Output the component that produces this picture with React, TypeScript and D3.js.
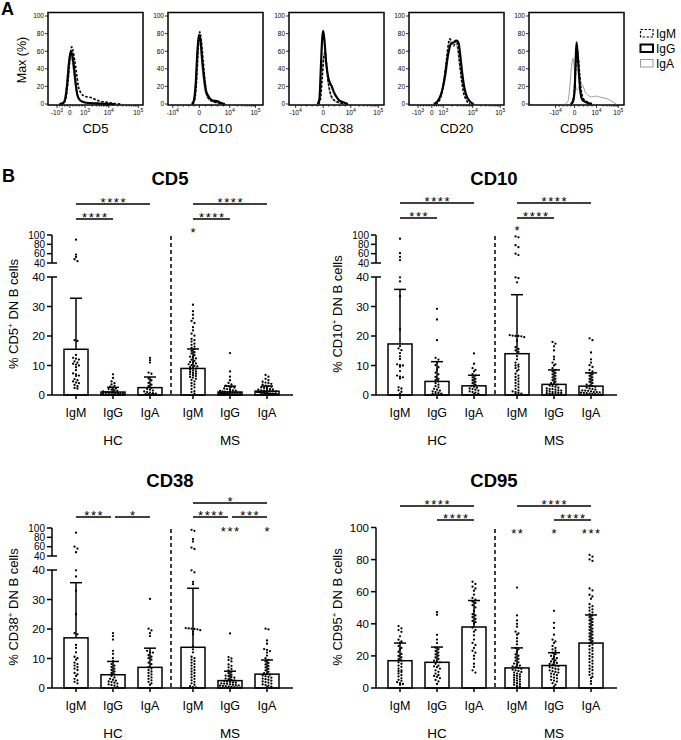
import React from "react";
import * as d3 from "d3";

const FONT = "'Liberation Sans', Arial, Helvetica, sans-serif";

// ================= Panel A: histogram data (x = display channel %, y = % of max) =================
const histMarkers = ["CD5", "CD10", "CD38", "CD20", "CD95"];
const histYTicks = [0, 20, 40, 60, 80, 100];
const legendLabels = ["IgM", "IgG", "IgA"];

// tick positions (channel %) with label base and exponent
const cd5AxisTicks: [number, string, string][] = [[9.5, "-10", "3"], [23, "0", ""], [39, "10", "3"], [64, "10", "4"], [95, "10", "5"]];
const cd10AxisTicks: [number, string, string][] = [[5, "-10", "4"], [33, "0", ""], [65, "10", "4"], [92, "10", "5"]];
const cd38AxisTicks: [number, string, string][] = [[7, "-10", "4"], [36, "0", ""], [65, "10", "4"], [94, "10", "5"]];
const cd20AxisTicks: [number, string, string][] = [[9.5, "-10", "3"], [24, "0", ""], [36, "10", "3"], [67, "10", "4"], [96, "10", "5"]];
const cd95AxisTicks: [number, string, string][] = [[28, "-10", "4"], [48, "0", ""], [71, "10", "4"], [94, "10", "5"]];

const cd5HistIgM = [[13, 0], [17, 2], [19, 8], [21, 25], [23, 50], [25, 65], [26, 62], [28, 50], [30, 35], [32, 20], [35, 12], [38, 9], [42, 8], [46, 7], [50, 5], [55, 3], [62, 2], [70, 0.5], [78, 0]];
const cd5HistIgG = [[12, 0], [16, 1], [18, 5], [20, 20], [22, 45], [24, 60], [25, 58], [27, 45], [29, 25], [31, 10], [34, 4], [38, 2], [45, 1], [55, 0.5], [70, 0]];
const cd5HistIgA = [[12, 0], [16, 2], [18, 10], [20, 30], [22, 52], [23.5, 58], [25, 52], [27, 35], [29, 18], [31, 8], [34, 3], [40, 1], [50, 0]];

const cd10HistIgM = [[26, 0], [28, 4], [30, 25], [32, 65], [33.5, 82], [35, 72], [37, 50], [39, 25], [41, 10], [45, 4], [50, 2], [58, 0]];
const cd10HistIgG = [[25, 0], [27, 3], [29, 20], [31, 60], [32.5, 78], [34, 74], [36, 50], [38, 30], [40, 15], [43, 8], [47, 4], [52, 3], [56, 1], [60, 0]];
const cd10HistIgA = [[25, 0], [27, 4], [29, 25], [31, 65], [32.5, 80], [34, 70], [36, 40], [38, 20], [41, 8], [45, 3], [52, 1], [60, 0]];

const cd38HistIgM = [[31, 0], [33, 5], [35, 30], [36.5, 52], [38, 59], [39.5, 45], [41, 28], [43, 15], [45, 8], [48, 4], [52, 2], [58, 0]];
const cd38HistIgG = [[30, 0], [32, 5], [33.5, 40], [35, 75], [36, 83], [37.5, 70], [39, 48], [41, 32], [43, 24], [45, 20], [47, 14], [50, 8], [53, 4], [57, 2], [62, 0]];
const cd38HistIgA = [[31, 0], [33, 8], [35, 35], [36.5, 55], [38, 58], [39.5, 42], [41, 25], [43, 12], [46, 5], [50, 2], [56, 0]];

const cd20HistIgM = [[28, 0], [32, 4], [36, 20], [39, 45], [41, 65], [43, 74], [45, 70], [47, 66], [49, 72], [51, 68], [53, 50], [55, 30], [57, 15], [60, 5], [64, 0]];
const cd20HistIgG = [[26, 0], [30, 3], [34, 12], [38, 32], [41, 55], [44, 68], [47, 70], [50, 72], [52, 70], [54, 55], [56, 35], [58, 20], [61, 8], [64, 3], [68, 0]];
const cd20HistIgA = [[27, 0], [31, 4], [35, 18], [38, 40], [41, 62], [43, 72], [45, 68], [48, 70], [51, 62], [53, 45], [56, 25], [59, 10], [63, 3], [67, 0]];

const cd95HistIgM = [[44, 0], [46, 3], [48, 20], [49.5, 45], [51, 60], [52, 52], [53.5, 32], [55, 15], [58, 5], [62, 2], [68, 0]];
const cd95HistIgG = [[44, 0], [46, 2], [48, 15], [49, 45], [50, 70], [51, 60], [52.5, 35], [54, 15], [56, 5], [60, 2], [66, 0]];
const cd95HistIgA = [[38, 0], [41, 3], [43, 20], [45, 45], [46.5, 52], [48, 35], [49.5, 18], [51, 16], [53, 20], [55, 23], [57, 20], [59, 14], [62, 10], [66, 8], [70, 9], [74, 8], [78, 7], [82, 6], [86, 4], [89, 2], [92, 0]];

// ================= Panel B: bar + scatter data =================
const isotypes = ["IgM", "IgG", "IgA"];
const cohorts = ["HC", "MS"];

// ---- CD5 ----
const cd5Mean = [15.5, 1.0, 2.5, 9.0, 1.0, 1.3];
const cd5SdTop = [32.8, 2.6, 6.1, 15.6, 3.0, 3.0];
const cd5HcIgM = [90, 58, 53, 48, 44, 18.6, 18.3, 13.6, 12.6, 12.3, 12.0, 11.4, 11.0, 10.6, 10.3, 10.0, 9.4, 8.4, 7.3, 7.0, 6.6, 6.4, 5.4, 5.0, 4.6, 4.2, 4.0, 3.4, 3.0, 2.4, 2.2];
const cd5HcIgG = [7.0, 5.8, 4.6, 4.0, 3.6, 3.1, 2.8, 2.5, 2.2, 2.0, 1.8, 1.6, 1.4, 1.2, 1.0, 1.0, 0.9, 0.8, 0.7, 0.6, 0.5, 0.5, 0.4, 0.3, 0.3, 0.2, 0.2, 0.1, 0.1, 0.1];
const cd5HcIgA = [12.6, 11.8, 11.0, 7.6, 7.2, 5.6, 5.0, 4.1, 3.5, 3.0, 2.4, 2.0, 1.8, 1.5, 1.2, 1.0, 0.8, 0.6, 0.5, 0.4, 0.3, 0.2, 0.1];
const cd5MsIgM = [30.6, 28.4, 27.2, 26.0, 25.1, 24.4, 23.0, 21.9, 20.8, 20.1, 19.0, 18.6, 18.1, 17.4, 17.0, 16.4, 16.0, 15.6, 15.0, 14.5, 14.1, 13.5, 13.0, 12.8, 12.4, 12.0, 11.6, 11.2, 11.0, 10.7, 10.4, 10.1, 9.9, 9.7, 9.4, 9.1, 8.9, 8.6, 8.3, 8.0, 7.8, 7.5, 7.2, 7.0, 6.7, 6.4, 6.1, 5.9, 5.5, 5.1, 4.6, 4.0, 3.6, 3.1, 2.6, 2.0, 1.3, 1.0, 0.5];
const cd5MsIgG = [14.2, 8.0, 6.2, 5.0, 4.1, 3.6, 3.2, 3.0, 2.8, 2.5, 2.2, 2.0, 1.8, 1.6, 1.5, 1.4, 1.2, 1.1, 1.0, 1.0, 0.9, 0.8, 0.8, 0.7, 0.6, 0.6, 0.5, 0.5, 0.4, 0.4, 0.3, 0.3, 0.3, 0.2, 0.2, 0.2, 0.1, 0.1, 0.1, 0.1, 0.05, 0.05];
const cd5MsIgA = [6.8, 6.2, 5.5, 5.0, 4.5, 4.2, 4.0, 3.8, 3.5, 3.2, 3.0, 2.8, 2.6, 2.4, 2.2, 2.0, 1.9, 1.8, 1.6, 1.5, 1.4, 1.3, 1.2, 1.1, 1.0, 1.0, 0.9, 0.8, 0.8, 0.7, 0.6, 0.6, 0.5, 0.5, 0.4, 0.4, 0.3, 0.3, 0.2, 0.2, 0.1, 0.1, 0.1];
const cd5Sig: [number, number, number, string][] = [[0, 2, 2, "****"], [0, 1, 1, "****"], [3, 5, 2, "****"], [3, 4, 1, "****"]];
const cd5Single: [number, string][] = [[3, "*"]];

// ---- CD10 ----
const cd10Mean = [17.3, 4.6, 3.1, 14.0, 3.6, 3.0];
const cd10SdTop = [35.8, 11.3, 6.7, 34.0, 8.5, 7.5];
const cd10HcIgM = [92, 61, 53, 46, 39.9, 38.5, 33.5, 22.2, 16.6, 15.8, 15.2, 14.2, 13.1, 12.2, 10.4, 10.1, 10.0, 9.6, 8.1, 6.6, 6.2, 6.0, 5.6, 2.6, 2.2, 1.6, 1.1, 0.5];
const cd10HcIgG = [29.2, 25.6, 18.6, 12.6, 12.0, 11.1, 10.1, 9.4, 8.6, 7.6, 7.0, 6.1, 5.5, 5.0, 4.6, 4.0, 3.5, 3.0, 2.6, 2.1, 1.8, 1.5, 1.2, 1.0, 0.8, 0.5, 0.4, 0.3, 0.2, 0.1];
const cd10HcIgA = [14.1, 10.6, 9.1, 8.5, 8.0, 7.1, 6.6, 6.0, 5.5, 5.0, 4.5, 4.0, 3.5, 3.1, 2.8, 2.5, 2.2, 2.0, 1.8, 1.5, 1.2, 1.0, 0.8, 0.5, 0.3];
const cd10MsIgM = [97, 95, 78, 74, 60, 57, 39.9, 39.6, 38.2, 20.3, 20.1, 20.0, 20.0, 19.9, 19.6, 18.4, 16.2, 15.6, 15.1, 14.6, 13.2, 12.1, 11.0, 10.3, 10.0, 9.6, 9.1, 8.6, 8.1, 7.2, 6.6, 6.1, 5.6, 5.1, 4.6, 4.1, 3.6, 3.1, 2.6, 2.1, 1.6, 1.2, 1.0, 0.8, 0.5, 0.4, 0.2];
const cd10MsIgG = [18.0, 17.4, 16.5, 15.1, 13.0, 12.1, 11.0, 10.4, 10.0, 9.1, 8.5, 8.0, 7.5, 7.0, 6.5, 6.0, 5.5, 5.0, 4.5, 4.0, 3.8, 3.5, 3.2, 3.0, 2.8, 2.5, 2.2, 2.0, 2.0, 1.8, 1.6, 1.5, 1.4, 1.2, 1.0, 1.0, 0.8, 0.7, 0.6, 0.5, 0.4, 0.3, 0.2, 0.1];
const cd10MsIgA = [19.2, 18.6, 14.4, 12.1, 11.0, 10.1, 9.5, 8.5, 8.0, 7.5, 7.0, 6.5, 6.0, 5.5, 5.0, 4.5, 4.0, 3.5, 3.2, 3.0, 2.8, 2.5, 2.2, 2.0, 1.8, 1.6, 1.5, 1.4, 1.2, 1.0, 1.0, 0.9, 0.8, 0.7, 0.6, 0.5, 0.4, 0.3, 0.2, 0.1];
const cd10Sig: [number, number, number, string][] = [[0, 2, 2, "****"], [0, 1, 1, "***"], [3, 5, 2, "****"], [3, 4, 1, "****"]];
const cd10Single: [number, string][] = [[3, "*"]];

// ---- CD38 ----
const cd38Mean = [17.0, 4.5, 7.0, 13.8, 2.5, 4.7];
const cd38SdTop = [35.7, 9.0, 13.5, 33.8, 5.7, 9.5];
const cd38HcIgM = [90, 60, 56, 48, 39.9, 37.8, 33.0, 25.0, 18.6, 18.2, 14.6, 13.6, 12.1, 10.6, 10.1, 9.6, 8.6, 8.1, 7.6, 7.1, 6.6, 6.1, 5.1, 4.6, 4.1, 3.1, 2.6, 2.1, 1.6];
const cd38HcIgG = [18.6, 17.6, 16.4, 12.6, 11.6, 10.1, 9.1, 8.1, 7.6, 7.1, 6.6, 6.1, 5.6, 5.1, 4.6, 4.1, 3.6, 3.1, 2.8, 2.5, 2.2, 2.0, 1.8, 1.5, 1.2, 1.0, 0.8, 0.5];
const cd38HcIgA = [30.2, 20.1, 19.5, 18.6, 17.6, 12.6, 12.1, 12.0, 11.1, 10.6, 10.1, 9.6, 8.6, 8.1, 7.1, 6.6, 6.1, 5.6, 5.1, 4.6, 4.1, 3.6, 3.1, 2.6, 2.1, 1.6, 1.1];
const cd38MsIgM = [96, 94, 76, 71, 58, 55, 39.9, 39.2, 36.0, 35.2, 20.3, 20.2, 20.1, 20.0, 19.9, 19.6, 19.1, 18.2, 14.1, 13.1, 12.1, 10.6, 10.1, 9.6, 9.1, 8.6, 8.1, 7.6, 7.1, 6.6, 6.1, 5.6, 5.1, 4.6, 4.1, 3.6, 3.1, 2.6, 2.1, 1.6, 1.1, 0.6, 0.3, 0.2];
const cd38MsIgG = [18.5, 10.5, 10.0, 9.5, 9.0, 8.0, 7.5, 7.0, 6.5, 6.0, 5.5, 5.0, 4.5, 4.2, 4.0, 3.8, 3.5, 3.2, 3.0, 2.8, 2.6, 2.4, 2.2, 2.0, 1.9, 1.8, 1.6, 1.5, 1.4, 1.2, 1.1, 1.0, 0.9, 0.8, 0.7, 0.6, 0.5, 0.4, 0.3, 0.2, 0.1];
const cd38MsIgA = [20.1, 19.9, 16.1, 15.0, 13.2, 12.9, 12.5, 12.0, 11.0, 10.1, 9.5, 9.0, 8.5, 8.0, 7.5, 7.0, 6.5, 6.0, 5.5, 5.0, 4.8, 4.5, 4.2, 4.0, 3.8, 3.5, 3.2, 3.0, 2.8, 2.5, 2.2, 2.0, 1.8, 1.5, 1.2, 1.0, 0.8, 0.5, 0.3];
const cd38Sig: [number, number, number, string][] = [[0, 1, 1, "***"], [1, 2, 1, "*"], [3, 5, 2, "*"], [3, 4, 1, "****"], [4, 5, 1, "***"]];
const cd38Single: [number, string][] = [[4, "***"], [5, "*"]];

// ---- CD95 ----
const cd95Mean = [17.0, 16.0, 38.0, 12.5, 14.0, 28.0];
const cd95SdTop = [28.0, 25.5, 54.5, 25.0, 22.0, 45.5];
const cd95HcIgM = [38.6, 37.2, 36.1, 35.0, 32.2, 30.1, 29.0, 28.2, 26.1, 25.0, 24.1, 22.6, 21.2, 20.0, 19.1, 18.0, 17.2, 16.0, 15.1, 14.0, 13.2, 12.1, 11.0, 10.6, 10.0, 9.1, 8.0, 7.2, 6.0, 5.1, 4.5, 3.6, 3.0, 2.5, 2.0];
const cd95HcIgG = [47.2, 45.6, 33.1, 30.2, 28.0, 25.1, 24.2, 23.0, 22.1, 21.0, 20.2, 19.0, 18.1, 17.0, 16.5, 16.0, 15.1, 14.0, 13.5, 13.0, 12.1, 11.0, 10.1, 9.0, 8.1, 7.5, 7.0, 6.1, 5.0, 4.1, 2.5];
const cd95HcIgA = [66.2, 64.8, 63.1, 62.0, 60.6, 58.2, 56.1, 55.0, 53.8, 53.0, 51.6, 50.2, 48.1, 46.0, 45.2, 44.1, 43.0, 41.8, 41.0, 40.1, 37.6, 36.2, 35.1, 32.8, 30.2, 28.1, 26.8, 25.0, 23.2, 22.0, 20.1, 18.2, 15.1, 13.2, 11.0, 9.6];
const cd95MsIgM = [62.6, 45.2, 42.1, 40.0, 38.2, 35.1, 34.0, 33.2, 31.0, 29.1, 27.2, 25.0, 24.1, 22.6, 21.0, 20.1, 19.0, 18.2, 17.1, 16.0, 15.2, 14.6, 14.0, 13.4, 13.0, 12.6, 12.0, 11.4, 11.0, 10.6, 10.0, 9.6, 9.0, 8.5, 8.0, 7.6, 7.0, 6.5, 6.0, 5.4, 5.0, 4.6, 4.0, 3.5, 3.0, 2.4, 2.0, 1.5, 1.0, 0.5];
const cd95MsIgG = [48.1, 40.6, 37.4, 33.2, 30.1, 29.0, 28.1, 26.2, 25.0, 24.1, 23.2, 22.0, 21.1, 20.0, 19.2, 18.6, 18.0, 17.2, 16.5, 16.0, 15.6, 15.0, 14.5, 14.0, 13.6, 13.0, 12.5, 12.0, 11.6, 11.0, 10.5, 10.0, 9.6, 9.0, 8.5, 8.0, 7.1, 6.5, 6.0, 5.1, 4.6, 4.0, 3.0, 2.1, 1.0];
const cd95MsIgA = [83.0, 81.8, 80.1, 79.2, 62.0, 60.8, 58.1, 57.0, 55.6, 52.2, 51.0, 50.1, 49.0, 48.2, 47.1, 46.0, 45.2, 44.1, 43.0, 42.2, 41.1, 40.0, 39.2, 38.1, 37.0, 36.2, 35.1, 34.0, 33.2, 32.1, 31.0, 30.1, 29.2, 28.0, 27.1, 26.2, 25.0, 24.1, 23.2, 22.0, 21.1, 20.0, 19.2, 18.1, 17.0, 16.1, 15.2, 14.0, 13.1, 12.0, 11.2, 10.1, 9.0, 8.2, 7.0, 6.1, 4.2, 2.6];
const cd95Sig: [number, number, number, string][] = [[0, 2, 2, "****"], [1, 2, 1, "****"], [3, 5, 2, "****"], [4, 5, 1, "****"]];
const cd95Single: [number, string][] = [[3, "**"], [4, "*"], [5, "***"]];

const brokenLowerTicks = [0, 10, 20, 30, 40];
const brokenUpperTicks = [40, 60, 80, 100];
const linearTicks = [0, 20, 40, 60, 80, 100];

// ================= layout tables built from arrays =================
const histPanels = [
  { label: histMarkers[0], left: 48, ticks: cd5AxisTicks, series: [cd5HistIgM, cd5HistIgG, cd5HistIgA] },
  { label: histMarkers[1], left: 168, ticks: cd10AxisTicks, series: [cd10HistIgM, cd10HistIgG, cd10HistIgA] },
  { label: histMarkers[2], left: 289, ticks: cd38AxisTicks, series: [cd38HistIgM, cd38HistIgG, cd38HistIgA] },
  { label: histMarkers[3], left: 409, ticks: cd20AxisTicks, series: [cd20HistIgM, cd20HistIgG, cd20HistIgA] },
  { label: histMarkers[4], left: 529, ticks: cd95AxisTicks, series: [cd95HistIgM, cd95HistIgG, cd95HistIgA] },
];

const charts = [
  { title: "CD5", ox: 0, oy: 0, broken: true, groups: [cd5HcIgM, cd5HcIgG, cd5HcIgA, cd5MsIgM, cd5MsIgG, cd5MsIgA], mean: cd5Mean, sdTop: cd5SdTop, sig: cd5Sig, single: cd5Single, titleY: 185, levels: [0, 219, 204], singleY: 230 },
  { title: "CD10", ox: 324, oy: 0, broken: true, groups: [cd10HcIgM, cd10HcIgG, cd10HcIgA, cd10MsIgM, cd10MsIgG, cd10MsIgA], mean: cd10Mean, sdTop: cd10SdTop, sig: cd10Sig, single: cd10Single, titleY: 185, levels: [0, 218, 203], singleY: 228 },
  { title: "CD38", ox: 0, oy: 293, broken: true, groups: [cd38HcIgM, cd38HcIgG, cd38HcIgA, cd38MsIgM, cd38MsIgG, cd38MsIgA], mean: cd38Mean, sdTop: cd38SdTop, sig: cd38Sig, single: cd38Single, titleY: 487 - 293, levels: [0, 224, 210], singleY: 236 },
  { title: "CD95", ox: 324, oy: 293, broken: false, groups: [cd95HcIgM, cd95HcIgG, cd95HcIgA, cd95MsIgM, cd95MsIgG, cd95MsIgA], mean: cd95Mean, sdTop: cd95SdTop, sig: cd95Sig, single: cd95Single, titleY: 487 - 293, levels: [0, 227, 213], singleY: 238 },
];

// ================= components =================
function minorTicks(ticks: [number, string, string][]) {
  const out: number[] = [];
  for (let i = 0; i < ticks.length - 1; i++) {
    const [p0, b0, e0] = ticks[i];
    const [p1, , e1] = ticks[i + 1];
    const pos0 = b0 === "10" && e0 !== "";
    if (pos0 && e1 !== "") {
      for (let k = 2; k <= 9; k++) out.push(p0 + (p1 - p0) * Math.log10(k));
    } else {
      for (let k = 1; k <= 4; k++) out.push(p0 + ((p1 - p0) * k) / 5);
    }
  }
  return out;
}

function HistPanel({ p }: { p: (typeof histPanels)[number] }) {
  const W = 95;
  const x = d3.scaleLinear().domain([0, 100]).range([p.left, p.left + W]);
  const y = d3.scaleLinear().domain([0, 100]).range([104, 16]);
  const line = d3
    .line<number[]>()
    .x((d) => x(d[0]))
    .y((d) => y(d[1]))
    .curve(d3.curveMonotoneX);
  const styles = [
    { stroke: "#000", w: 1.6, dash: "2.6,1.6" },
    { stroke: "#000", w: 2.2, dash: "" },
    { stroke: "#8f8f8f", w: 0.9, dash: "" },
  ];
  const order = [2, 1, 0];
  return (
    <g>
      <rect x={p.left} y={12.5} width={W} height={92.5} fill="none" stroke="#000" strokeWidth={1.5} />
      {order.map((si) => (
        <path key={si} d={line(p.series[si] as number[][]) || ""} fill="none" stroke={styles[si].stroke} strokeWidth={styles[si].w} strokeDasharray={styles[si].dash || undefined} strokeLinejoin="round" />
      ))}
      {histYTicks.map((t) => (
        <g key={t}>
          <line x1={p.left - 3} x2={p.left} y1={y(t)} y2={y(t)} stroke="#000" strokeWidth={0.8} />
          <text x={p.left - 4} y={y(t) + 2.3} fontSize={6.5} textAnchor="end" fill="#000">{t}</text>
        </g>
      ))}
      {minorTicks(p.ticks).map((m, i) => (
        <line key={"m" + i} x1={x(m)} x2={x(m)} y1={105} y2={106.8} stroke="#000" strokeWidth={0.6} />
      ))}
      {p.ticks.map(([pos, b, e], i) => (
        <g key={i}>
          <line x1={x(pos)} x2={x(pos)} y1={105} y2={108} stroke="#000" strokeWidth={0.8} />
          <text x={x(pos)} y={115} fontSize={6.5} textAnchor="middle" fill="#000">
            {b}
            {e ? <tspan dy={-3} fontSize={5}>{e}</tspan> : null}
          </text>
        </g>
      ))}
      <text x={p.left + W / 2} y={133} fontSize={13} textAnchor="middle">{p.label}</text>
    </g>
  );
}

function layoutDots(values: number[], cx: number, y: (v: number) => number) {
  const pts = values.map((v) => ({ v, py: y(v) })).sort((a, b) => a.py - b.py);
  const rows: { y0: number; pts: { v: number; py: number }[] }[] = [];
  for (const p of pts) {
    const last = rows[rows.length - 1];
    if (last && p.py - last.y0 < 2.3) last.pts.push(p);
    else rows.push({ y0: p.py, pts: [p] });
  }
  const out: { x: number; y: number }[] = [];
  for (const r of rows) {
    const n = r.pts.length;
    let step = 2.9;
    if ((n - 1) * step > 20) step = 20 / (n - 1);
    r.pts.forEach((p, i) => out.push({ x: cx + (i - (n - 1) / 2) * step, y: p.py }));
  }
  return out;
}

function BarChart({ c }: { c: (typeof charts)[number] }) {
  const { ox, oy } = c;
  const axisX = 52 + ox;
  const base = 395 + oy;
  const outer = d3.scalePoint<string>().domain(cohorts).range([113 + ox, 230 + ox]);
  const inner = d3.scalePoint<string>().domain(isotypes).range([-37, 37]);
  const cx = (g: number) => (outer(cohorts[Math.floor(g / 3)]) as number) + (inner(isotypes[g % 3]) as number);
  const lo = d3.scaleLinear().domain([0, 40]).range([base, 277 + oy]);
  const hi = d3.scaleLinear().domain([40, 100]).range([263 + oy, 235 + oy]);
  const lin = d3.scaleLinear().domain([0, 100]).range([base, 234.5 + oy]);
  const y = (v: number) => (c.broken ? (v <= 40 ? lo(v) : hi(v)) : lin(v));
  const bw = 24;
  const sw = 1.5;

  const yLabelNum = c.title;
  return (
    <g>
      <text x={170 + ox} y={c.titleY + oy} fontSize={18.5} fontWeight="bold" textAnchor="middle">{c.title}</text>
      {/* y label */}
      <text transform={`translate(${17.5 + ox},${314 + oy}) rotate(-90)`} fontSize={13} textAnchor="middle">
        <tspan>% {yLabelNum}</tspan>
        <tspan dy={-4.5} fontSize={8}>+</tspan>
        <tspan dy={4.5}> DN B cells</tspan>
      </text>
      {/* y axis */}
      {c.broken ? (
        <g>
          <line x1={axisX} x2={axisX} y1={base} y2={lo(40)} stroke="#000" strokeWidth={sw} />
          <line x1={axisX} x2={axisX} y1={hi(40)} y2={hi(100)} stroke="#000" strokeWidth={sw} />
          {brokenLowerTicks.map((t) => (
            <g key={"l" + t}>
              <line x1={axisX - 5} x2={t === 40 ? axisX + 5 : axisX} y1={lo(t)} y2={lo(t)} stroke="#000" strokeWidth={sw} />
              <text x={axisX - 7} y={lo(t) + 4} fontSize={11.5} textAnchor="end">{t}</text>
            </g>
          ))}
          {brokenUpperTicks.map((t) => (
            <g key={"u" + t}>
              <line x1={axisX - 5} x2={t === 40 ? axisX + 5 : axisX} y1={hi(t)} y2={hi(t)} stroke="#000" strokeWidth={sw} />
              <text x={axisX - 7} y={hi(t) + 3.5} fontSize={10} textAnchor="end">{t}</text>
            </g>
          ))}
        </g>
      ) : (
        <g>
          <line x1={axisX} x2={axisX} y1={base} y2={lin(100)} stroke="#000" strokeWidth={sw} />
          {linearTicks.map((t) => (
            <g key={t}>
              <line x1={axisX - 5} x2={axisX} y1={lin(t)} y2={lin(t)} stroke="#000" strokeWidth={sw} />
              <text x={axisX - 7} y={lin(t) + 4} fontSize={11.5} textAnchor="end">{t}</text>
            </g>
          ))}
        </g>
      )}
      {/* dashed separator */}
      <line x1={171 + ox} x2={171 + ox} y1={236 + oy} y2={394 + oy} stroke="#000" strokeWidth={1.5} strokeDasharray="4,3" />
      {/* bars */}
      {c.mean.map((m, g) => (
        <rect key={"b" + g} x={cx(g) - bw / 2} y={y(m)} width={bw} height={base - y(m)} fill="#fff" stroke="#000" strokeWidth={sw} />
      ))}
      {/* dots */}
      {c.groups.map((vals, g) =>
        layoutDots(vals, cx(g), y).map((d, i) => <circle key={g + "-" + i} cx={d.x} cy={d.y} r={1.15} fill="#000" />)
      )}
      {/* error bars */}
      {c.sdTop.map((s, g) => (
        <g key={"e" + g}>
          <line x1={cx(g)} x2={cx(g)} y1={y(c.mean[g])} y2={y(s)} stroke="#000" strokeWidth={sw} />
          <line x1={cx(g) - 6} x2={cx(g) + 6} y1={y(s)} y2={y(s)} stroke="#000" strokeWidth={sw} />
        </g>
      ))}
      {/* baseline + x ticks */}
      <line x1={axisX} x2={293 + ox} y1={base} y2={base} stroke="#000" strokeWidth={sw} />
      {c.mean.map((_, g) => (
        <g key={"x" + g}>
          <line x1={cx(g)} x2={cx(g)} y1={base} y2={base + 4} stroke="#000" strokeWidth={sw} />
          <text x={cx(g)} y={base + 22} fontSize={12.5} textAnchor="middle">{isotypes[g % 3]}</text>
        </g>
      ))}
      {cohorts.map((h) => (
        <text key={h} x={(outer(h) as number)} y={base + 50} fontSize={13.5} textAnchor="middle">{h}</text>
      ))}
      {/* significance */}
      {c.sig.map(([a, b, lvl, lab], i) => {
        const shareLeft = c.sig.some(([a2, b2, l2], j) => j !== i && l2 === lvl && b2 === a);
        const shareRight = c.sig.some(([a2, b2, l2], j) => j !== i && l2 === lvl && a2 === b);
        const x1 = cx(a) + (shareLeft ? 2 : 0);
        const x2 = cx(b) - (shareRight ? 2 : 0);
        const ly = c.levels[lvl] + oy;
        return (
          <g key={"s" + i}>
            <line x1={x1} x2={x2} y1={ly} y2={ly} stroke="#000" strokeWidth={1.3} />
            <text x={(x1 + x2) / 2 + 0.8} y={ly + 2.6} fontSize={13} letterSpacing={1.6} textAnchor="middle">{lab}</text>
          </g>
        );
      })}
      {c.single.map(([g, lab], i) => (
        <text key={"t" + i} x={cx(g) + 0.8} y={c.singleY + oy + 6.5} fontSize={13} letterSpacing={1.6} textAnchor="middle">{lab}</text>
      ))}
    </g>
  );
}

export default function App() {
  const legendStyles = [
    { stroke: "#000", w: 1.2, dash: "2.5,1.5" },
    { stroke: "#000", w: 2, dash: "" },
    { stroke: "#9a9a9a", w: 1, dash: "" },
  ];
  return (
    <svg width={681} height={740} style={{ position: "absolute", left: 0, top: 0, background: "#fff" }} fontFamily={FONT}>
      <rect width={681} height={740} fill="#fff" />
      <text x={1} y={15} fontSize={18} fontWeight="bold">A</text>
      <text transform="translate(25.5,60) rotate(-90)" fontSize={12.5} textAnchor="middle">Max (%)</text>
      {histPanels.map((p, i) => (
        <HistPanel key={i} p={p} />
      ))}
      {legendLabels.map((l, i) => (
        <g key={l}>
          <rect x={640.5} y={29.5 + i * 15} width={12.5} height={7.5} fill="none" stroke={legendStyles[i].stroke} strokeWidth={legendStyles[i].w} strokeDasharray={legendStyles[i].dash || undefined} />
          <text x={656} y={37.5 + i * 15} fontSize={12}>{l}</text>
        </g>
      ))}
      <text x={2} y={182} fontSize={18} fontWeight="bold">B</text>
      {charts.map((c) => (
        <BarChart key={c.title} c={c} />
      ))}
    </svg>
  );
}
